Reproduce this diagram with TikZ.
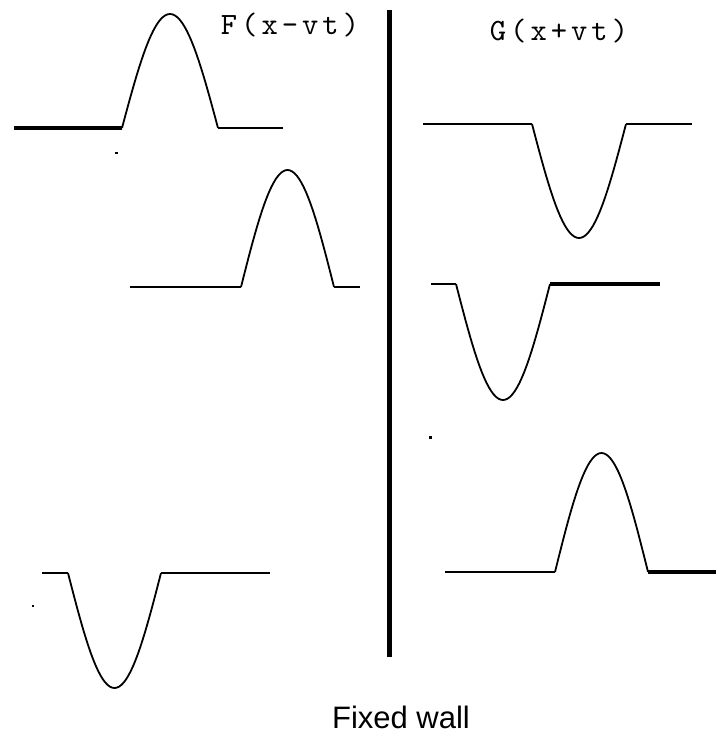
\documentclass[tikz,border=0pt]{standalone}
\usepackage{fontspec}
\setmainfont{Liberation Sans}
\newfontfamily\fnfont[Extension=.otf,LetterSpace=13]{lmmono10-regular}
\usetikzlibrary{positioning}
\tikzset{
  wave/.style={line width=1.8pt,line join=round},
  wall/.style={line width=5pt},
  fnlabel/.style={font=\fontsize{31}{33}\fnfont},
  speck/.style={fill=black},
}

\begin{document}
\begin{tikzpicture}[x=1pt,y=-1pt]
  \useasboundingbox (0,0) rectangle (720,735);
  % the wall
  \coordinate (walltop) at (389,10);
  \coordinate (wallfoot) at (389,657);
  \draw[wall] (walltop) -- (wallfoot);
  \node[font=\fontsize{31}{33}\selectfont,anchor=base] (wallname) at (401,728) {Fixed wall};
  % labels
  \node[fnlabel,anchor=base] (Flabel) at (290,35) {F(x-vt)};
  \node[fnlabel,anchor=base] (Glabel) at (559,41) {G(x+vt)};
  % pulses: left end/foot/foot/right end/base/height/left width/right width
  \foreach \xl/\xa/\xb/\xr/\yb/\hgt/\lw/\rw in {
      14/122/218/283/128/114/3.4/1.8,
      130/241/334/360/287/117/1.8/1.8,
      42/68/161/270/573/-115/1.8/1.8,
      423/532/626/692/124/-114/1.8/1.8,
      431/456/550/660/284/-116/1.8/3.4,
      445/555/648/716/572/119/1.8/3.4}
  {
    \draw[line width=\lw pt] (\xl,\yb) -- (\xa,\yb);
    \draw[wave] plot[domain=0:1,samples=41] ({\xa+(\xb-\xa)*\x},{\yb-(\hgt)*sin(180*\x)});
    \draw[line width=\rw pt] (\xb,\yb) -- (\xr,\yb);
  }
  % specks
  \fill[speck] (115,152) rectangle (118,154.5);
  \fill[speck] (32,605) rectangle (34,607);
  \fill[speck] (429,436) rectangle (432,438.5);
\end{tikzpicture}
\end{document}
